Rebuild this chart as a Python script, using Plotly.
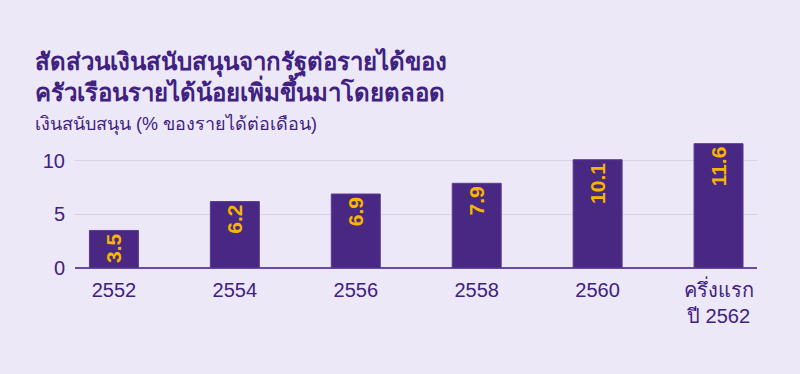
import plotly.graph_objects as go

categories = ["2552", "2554", "2556", "2558", "2560", "ครึ่งแรก<br>ปี 2562"]
values = [3.5, 6.2, 6.9, 7.9, 10.1, 11.6]
value_labels = ["3.5", "6.2", "6.9", "7.9", "10.1", "11.6"]
y_ticks = [0, 5, 10]

title_line1 = "สัดส่วนเงินสนับสนุนจากรัฐต่อรายได้ของ"
title_line2 = "ครัวเรือนรายได้น้อยเพิ่มขึ้นมาโดยตลอด"
subtitle = "เงินสนับสนุน (% ของรายได้ต่อเดือน)"

BG = "#ECE8F8"
PURPLE = "#482882"
TEXT = "#3F2180"
ORANGE = "#F7B500"
FONT = "Liberation Sans, Arial, sans-serif"

W, H = 800, 374
L, R, T, B = 75, 43, 134, 106
ph = H - T - B

def py(y):
    return (H - B - y) / ph

fig = go.Figure(go.Bar(
    x=list(range(len(categories))),
    y=values,
    text=value_labels,
    textposition="inside",
    insidetextanchor="end",
    textangle=-90,
    textfont=dict(color=ORANGE, size=21, family="Liberation Sans, Arial", weight="bold"),
    marker=dict(color=PURPLE, line=dict(color="#5B3B98", width=1)),
    width=0.405,
    hoverinfo="skip",
))

fig.update_layout(
    width=W, height=H,
    margin=dict(l=L, r=R, t=T, b=B),
    paper_bgcolor=BG, plot_bgcolor=BG,
    showlegend=False,
    uniformtext=dict(minsize=21, mode="show"),
    font=dict(family=FONT, color=TEXT, size=19),
    xaxis=dict(
        range=[-0.322, 5.318],
        tickmode="array",
        tickvals=list(range(len(categories))),
        ticktext=categories,
        showgrid=False, zeroline=False, showline=False,
        ticks="", ticklen=0,
        tickfont=dict(size=20, color=TEXT),
        ticklabelstandoff=8,
        fixedrange=True,
    ),
    yaxis=dict(
        range=[0, 12.5],
        tickvals=y_ticks,
        showgrid=True, gridcolor="#D6D2E2", gridwidth=1,
        zeroline=True, zerolinecolor="#6A4AA8", zerolinewidth=2,
        showline=False, ticks="",
        tickfont=dict(size=20, color=TEXT),
        ticklabelstandoff=9,
        fixedrange=True,
    ),
    annotations=[
        dict(text=title_line1, xref="paper", yref="paper",
             x=(33 - L) / (W - L - R), y=py(63), xanchor="left", yanchor="middle",
             showarrow=False, font=dict(size=24, color=TEXT, weight="bold")),
        dict(text=title_line2, xref="paper", yref="paper",
             x=(33 - L) / (W - L - R), y=py(90), xanchor="left", yanchor="middle",
             showarrow=False, font=dict(size=24, color=TEXT, weight="bold")),
        dict(text=subtitle, xref="paper", yref="paper",
             x=(33 - L) / (W - L - R), y=py(124), xanchor="left", yanchor="middle",
             showarrow=False, font=dict(size=18, color=TEXT)),
    ],
)

fig.write_html("out.html")
